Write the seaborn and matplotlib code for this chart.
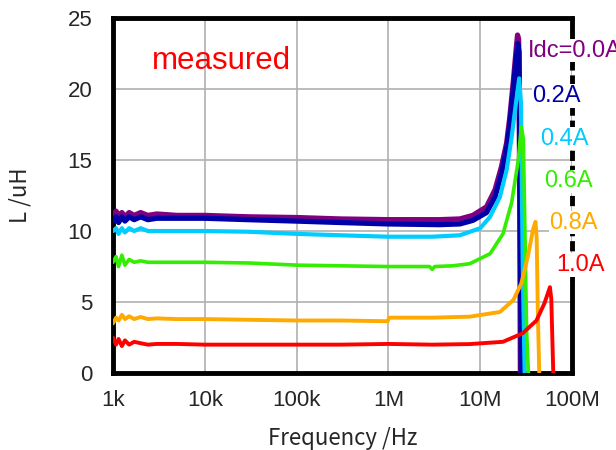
import numpy as np
import pandas as pd
import matplotlib
matplotlib.use("Agg")
import matplotlib.pyplot as plt
import seaborn as sns
from matplotlib.ticker import FixedLocator, MultipleLocator, NullFormatter

# values (frequency in Hz, inductance in uH)
labels = ["Idc=0.0A", "0.2A", "0.4A", "0.6A", "0.8A", "1.0A"]
colors = ["#800080", "#0000a8", "#00ccff", "#33ee00", "#ffaa00", "#ff0000"]
widths = [3.8, 3.8, 3.0, 2.6, 2.8, 2.8]

f_00 = [1e3, 1.08e3, 1.15e3, 1.25e3, 1.35e3, 1.5e3, 1.7e3, 2e3, 2.4e3, 3e3, 5e3, 1e4, 3e4, 1e5, 3e5,
        1e6, 3.6e6, 6e6, 8.3e6, 1.17e7, 1.45e7, 1.7e7, 1.94e7, 2.1e7, 2.3e7, 2.45e7, 2.55e7,
        2.62e7, 2.68e7, 2.74e7]
L_00 = [11.0, 11.4, 11.1, 11.3, 11.0, 11.3, 11.1, 11.3, 11.1, 11.2, 11.1, 11.1, 11.0, 10.95, 10.85,
        10.8, 10.8, 10.85, 11.1, 11.7, 12.9, 14.5, 16.2, 18.0, 20.6, 22.6, 23.8, 23.5, 15.0, 0.0]

f_02 = [1e3, 1.08e3, 1.15e3, 1.25e3, 1.35e3, 1.5e3, 1.7e3, 2e3, 2.4e3, 3e3, 5e3, 1e4, 3e4, 1e5, 3e5,
        1e6, 3.6e6, 6e6, 8.3e6, 1.17e7, 1.45e7, 1.7e7, 1.94e7, 2.1e7, 2.3e7, 2.45e7, 2.57e7,
        2.65e7, 2.72e7, 2.8e7]
L_02 = [10.7, 11.0, 10.6, 11.0, 10.7, 11.0, 10.8, 11.0, 10.8, 10.9, 10.9, 10.9, 10.8, 10.7, 10.6,
        10.5, 10.45, 10.5, 10.75, 11.3, 12.4, 14.0, 15.8, 17.5, 20.0, 22.0, 23.2, 22.6, 13.0, 0.0]

f_04 = [1e3, 1.08e3, 1.15e3, 1.25e3, 1.35e3, 1.5e3, 1.7e3, 2e3, 2.4e3, 3e3, 5e3, 1e4, 3e4, 1e5, 3e5,
        1e6, 3e6, 6e6, 1e7, 1.28e7, 1.64e7, 1.94e7, 2.2e7, 2.45e7, 2.66e7, 2.78e7, 2.9e7, 3.05e7]
L_04 = [10.0, 10.2, 9.8, 10.2, 9.9, 10.2, 10.0, 10.2, 10.0, 10.0, 10.0, 10.0, 9.95, 9.8, 9.7,
        9.6, 9.6, 9.7, 10.2, 11.0, 12.4, 14.3, 16.6, 19.0, 20.75, 19.0, 8.0, 0.0]

f_06 = [1e3, 1.08e3, 1.15e3, 1.25e3, 1.35e3, 1.5e3, 1.7e3, 2e3, 2.4e3, 3e3, 5e3, 1e4, 3e4, 1e5, 3e5,
        1e6, 2.8e6, 3e6, 3.2e6, 5e6, 7.7e6, 1.28e7, 1.77e7, 2.2e7, 2.6e7, 2.8e7, 2.95e7,
        3.08e7, 3.2e7, 3.35e7]
L_06 = [7.8, 8.2, 7.5, 8.3, 7.6, 8.0, 7.8, 7.9, 7.8, 7.8, 7.8, 7.8, 7.75, 7.6, 7.55,
        7.5, 7.5, 7.3, 7.5, 7.55, 7.7, 8.4, 9.8, 12.0, 15.0, 17.35, 16.5, 9.4, 3.0, 0.0]

f_08 = [1e3, 1.08e3, 1.15e3, 1.25e3, 1.35e3, 1.5e3, 1.7e3, 2e3, 2.4e3, 3e3, 5e3, 1e4, 3e4, 1e5, 3e5,
        9.8e5, 1.02e6, 3e6, 7.7e6, 1.64e7, 2.3e7, 2.8e7, 3.3e7, 3.76e7, 4.0e7, 4.12e7, 4.25e7,
        4.4e7]
L_08 = [3.5, 3.9, 3.7, 4.1, 3.8, 4.0, 3.8, 3.95, 3.8, 3.85, 3.8, 3.8, 3.75, 3.7, 3.7,
        3.65, 3.9, 3.9, 3.97, 4.3, 5.15, 6.3, 8.2, 10.1, 10.65, 9.5, 4.0, 0.0]

f_10 = [1e3, 1.08e3, 1.15e3, 1.25e3, 1.35e3, 1.5e3, 1.7e3, 2e3, 2.4e3, 3e3, 5e3, 1e4, 3e4, 1e5, 3e5,
        1e6, 3e6, 7.7e6, 1.77e7, 2.9e7, 4.1e7, 5.0e7, 5.75e7, 5.95e7, 6.1e7, 6.25e7]
L_10 = [2.5, 2.0, 2.4, 1.9, 2.3, 2.0, 2.2, 2.1, 2.0, 2.05, 2.05, 2.0, 2.0, 2.0, 2.0,
        2.05, 2.0, 2.04, 2.2, 2.8, 3.7, 4.9, 6.05, 5.2, 2.5, 0.0]

freqs = [f_00, f_02, f_04, f_06, f_08, f_10]
values = [L_00, L_02, L_04, L_06, L_08, L_10]
label_x = [3.3e7, 3.7e7, 4.45e7, 5.0e7, 5.65e7, 6.8e7]
label_y = [22.7, 19.5, 16.5, 13.5, 10.6, 7.6]

rows = []
for lab, f, L in zip(labels, freqs, values):
    for fi, li in zip(f, L):
        rows.append({"freq": fi, "L": li, "curve": lab})
df = pd.DataFrame(rows)

sns.set_style("white")
plt.rcParams["font.family"] = ["Liberation Sans", "DejaVu Sans"]

fig = plt.figure(figsize=(6.16, 4.5), dpi=100)
ax = fig.add_axes([0.1834, 0.171, 0.7452, 0.789])

for i, lab in enumerate(labels):
    sns.lineplot(data=df[df["curve"] == lab], x="freq", y="L", color=colors[i],
                 linewidth=widths[i], ax=ax, legend=False, sort=False,
                 estimator=None, zorder=3 + i * 0.01)

ax.set_xscale("log")
ax.set_xlim(1e3, 1e8)
ax.set_ylim(0, 25)

ax.xaxis.set_major_locator(FixedLocator([1e3, 1e4, 1e5, 1e6, 1e7, 1e8]))
ax.set_xticklabels(["1k", "10k", "100k", "1M", "10M", "100M"])
ax.xaxis.set_minor_locator(FixedLocator([m * 10 ** e for e in range(3, 8) for m in range(2, 10)]))
ax.xaxis.set_minor_formatter(NullFormatter())
ax.yaxis.set_major_locator(MultipleLocator(5))
ax.yaxis.set_minor_locator(MultipleLocator(1))

ax.grid(True, which="major", color="#b0b0b0", linewidth=1.2, zorder=0)
ax.tick_params(which="both", direction="in", labelsize=16)
ax.tick_params(axis="x", which="major", pad=12)
ax.tick_params(axis="y", which="major", pad=15)
ax.tick_params(which="major", length=0)
ax.tick_params(which="minor", length=5, width=1.2, color="black")
ax.tick_params(axis="x", which="minor", top=False)
ax.tick_params(axis="y", which="minor", right=False)

for side in ["left", "bottom", "top"]:
    ax.spines[side].set_visible(True)
    ax.spines[side].set_color("black")
    ax.spines[side].set_linewidth(3.5)
ax.spines["right"].set_visible(False)
ax.axvline(1e8, ymin=0.0, ymax=0.26, color="black", linewidth=3.5, zorder=6, clip_on=False)
ax.axvline(1e8, ymin=0.26, ymax=0.94, color="black", linewidth=3.5, zorder=6,
           linestyle=(0, (2.1, 1.0)), clip_on=False)
ax.axvline(1e8, ymin=0.94, ymax=1.0, color="black", linewidth=3.5, zorder=6, clip_on=False)

ax.set_xlabel("Frequency /Hz", fontsize=16, labelpad=12,
              family=["Noto Sans CJK JP", "DejaVu Sans"])
ax.set_ylabel("L /uH", fontsize=16, labelpad=26,
              family=["Noto Sans CJK JP", "DejaVu Sans"])

ax.text(2.65e3, 22.0, "measured", color="#ff0000", fontsize=22.5, ha="left", va="center")

for i, lab in enumerate(labels):
    ax.text(label_x[i], label_y[i], lab, color=colors[i], fontsize=17, ha="left",
            va="center", clip_on=False, zorder=7,
            bbox=dict(facecolor="white", edgecolor="none", pad=0.5))

fig.savefig("out.png", dpi=100)
